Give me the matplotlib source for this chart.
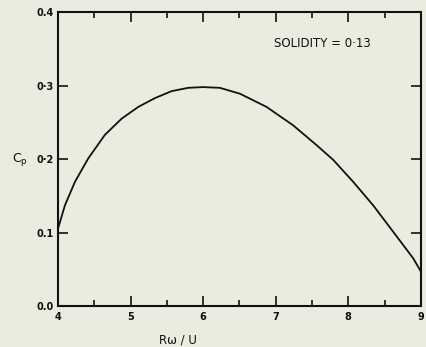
import numpy as np
import matplotlib.pyplot as plt
from matplotlib.ticker import MultipleLocator

# Cp vs tip speed ratio
tsr = [4.0, 4.096, 4.234, 4.418, 4.647, 4.877, 5.106, 5.336, 5.566, 5.795, 6.0,
       6.23, 6.507, 6.874, 7.24, 7.563, 7.792, 8.068, 8.343, 8.619, 8.894, 9.0]
cp = [0.105, 0.137, 0.169, 0.201, 0.233, 0.255, 0.271, 0.283, 0.2925, 0.297, 0.298,
      0.297, 0.289, 0.271, 0.246, 0.219, 0.199, 0.169, 0.137, 0.101, 0.065, 0.047]

xticks = [4, 5, 6, 7, 8, 9]
yticks = [0.0, 0.1, 0.2, 0.3, 0.4]
ylabels = ['0.0', '0.1', '0·2', '0·3', '0.4']

bg = '#ecebdf'
ink = '#111111'
plt.rcParams['font.family'] = 'DejaVu Sans'

fig = plt.figure(figsize=(4.26, 3.47), dpi=100, facecolor=bg)
ax = fig.add_axes([0.136, 0.118, 0.852, 0.847], facecolor=bg)

ax.plot(tsr, cp, color=ink, lw=1.3)

ax.set_xlim(4, 9)
ax.set_ylim(0, 0.4)
ax.set_xticks(xticks)
ax.set_yticks(yticks)
ax.set_yticklabels(ylabels)
ax.xaxis.set_minor_locator(MultipleLocator(0.5))
ax.tick_params(which='both', direction='in', top=True, right=True, color=ink,
               labelsize=7, labelcolor=ink)
ax.tick_params(which='major', length=7, width=1.2)
ax.tick_params(which='minor', length=4, width=1.2)
ax.tick_params(axis='y', pad=3)
ax.tick_params(axis='x', pad=4)
for lab in ax.get_xticklabels() + ax.get_yticklabels():
    lab.set_fontweight('bold')
for s in ax.spines.values():
    s.set_linewidth(1.5)
    s.set_color(ink)

ax.text(0.595, 0.895, 'SOLIDITY = 0·13', transform=ax.transAxes, fontsize=8.5,
        color=ink, va='center', fontweight='medium')
fig.text(0.418, 0.02, 'Rω / U', fontsize=8.5, color=ink, ha='center', va='center',
         fontweight='medium')
fig.text(0.028, 0.539, r'C$_\mathrm{p}$', fontsize=9, color=ink, va='center')

fig.savefig('out.png', dpi=100, facecolor=bg)
